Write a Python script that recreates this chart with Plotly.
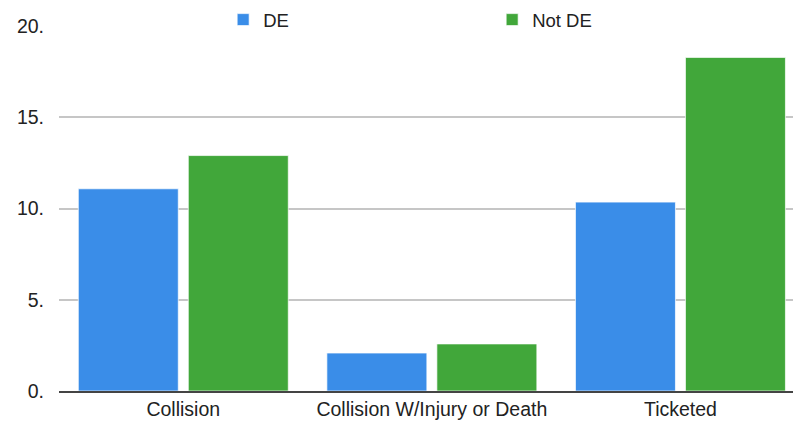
import plotly.graph_objects as go

categories = ["Collision", "Collision W/Injury or Death", "Ticketed"]
de_values = [11.08, 2.08, 10.35]
not_de_values = [12.9, 2.58, 18.28]
y_tick_vals = [0, 5, 10, 15, 20]
y_tick_text = ["0.", "5.", "10.", "15.", "20."]

FONT = "Liberation Sans, Arial, sans-serif"

fig = go.Figure()
fig.add_trace(go.Bar(
    name="DE", x=categories, y=de_values,
    marker=dict(color="#3a8de8", line=dict(color="rgba(255,255,255,0.7)", width=1)),
))
fig.add_trace(go.Bar(
    name="Not DE", x=categories, y=not_de_values,
    marker=dict(color="#41a73a", line=dict(color="rgba(255,255,255,0.7)", width=1)),
))

fig.update_layout(
    width=793, height=417, autosize=False,
    margin=dict(l=51, r=0, t=18, b=34, pad=0, autoexpand=False),
    paper_bgcolor="white", plot_bgcolor="white",
    barmode="group", bargap=0.115, bargroupgap=0.091,
    font=dict(family=FONT, size=19, color="#222222"),
    legend=dict(
        orientation="h", xref="container", x=0.2713, xanchor="left",
        yref="container", y=0.971, yanchor="middle",
        entrywidth=224, entrywidthmode="pixels", itemwidth=30,
        font=dict(family=FONT, size=18.5, color="#222222"),
        bgcolor="rgba(0,0,0,0)", traceorder="normal",
    ),
    xaxis=dict(
        type="category", range=[-0.5, 2.485], showgrid=False,
        showline=True, linecolor="#444444", linewidth=2,
        ticks="", tickfont=dict(family=FONT, size=19.5, color="#222222"),
        automargin=False,
    ),
    yaxis=dict(
        range=[0, 20], tickvals=y_tick_vals, ticktext=y_tick_text,
        showgrid=True, gridcolor="#c6c6c6", gridwidth=1.5,
        zeroline=False, showline=False, ticks="",
        ticklabelstandoff=14,
        tickfont=dict(family=FONT, size=19.5, color="#222222"),
        automargin=False,
    ),
)

fig.write_html("out.html")
